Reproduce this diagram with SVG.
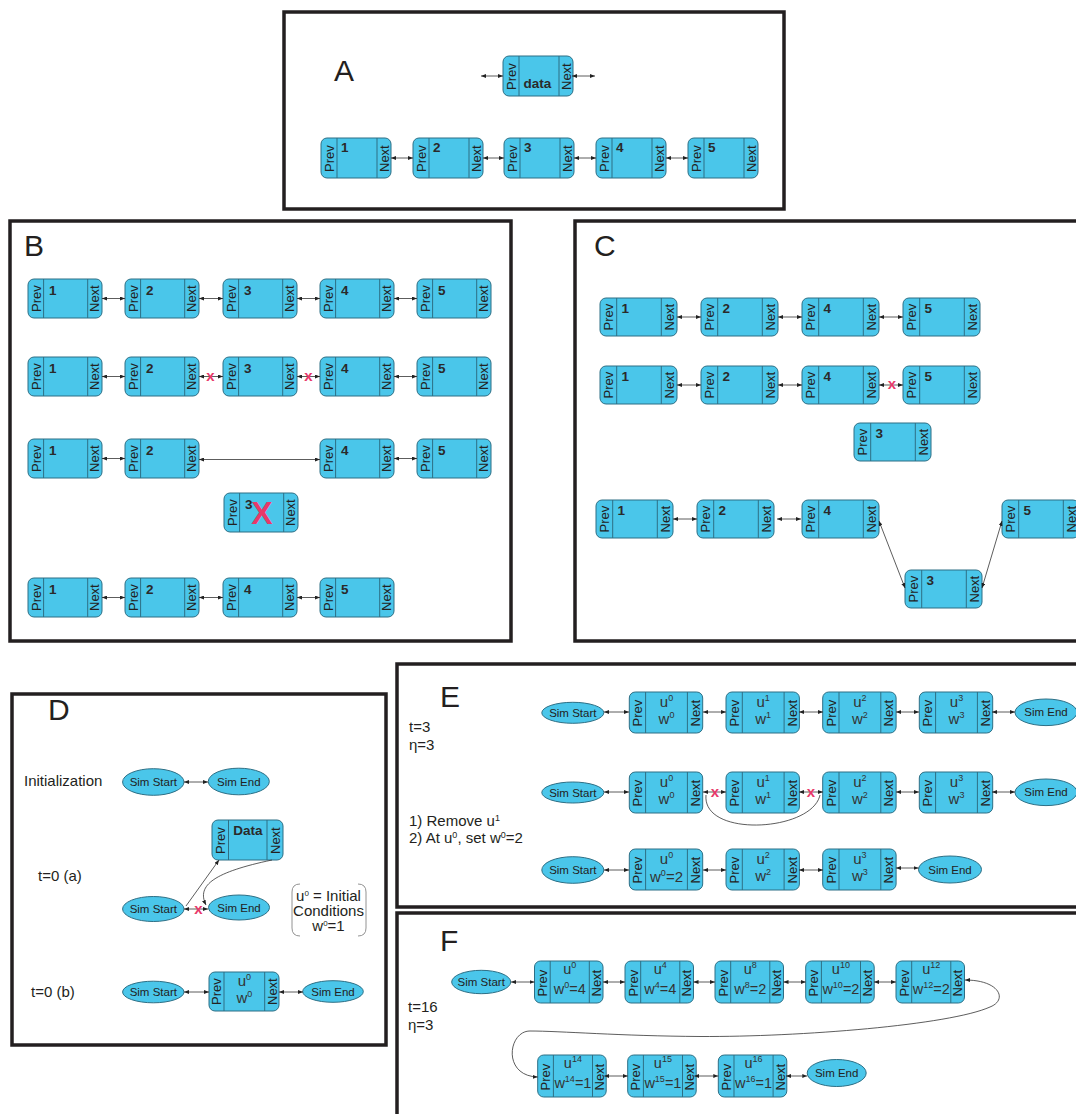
<svg xmlns="http://www.w3.org/2000/svg" xmlns:xlink="http://www.w3.org/1999/xlink" width="1076" height="1114" viewBox="0 0 1076 1114">
<style>
.nr{fill:#4ac6ea;stroke:#2d6f85;stroke-width:1}
.dv{fill:none;stroke:#2d6f85;stroke-width:1}
.pn{font-family:"Liberation Sans",Arial,sans-serif;font-size:13px;fill:#222}
.num{font-family:"Liberation Sans",Arial,sans-serif;font-size:13.5px;font-weight:bold;fill:#2a2a2a}
.el{fill:#4ac6ea;stroke:#2d6f85;stroke-width:1}
.et{font-family:"Liberation Sans",Arial,sans-serif;font-size:11.5px;fill:#222;text-anchor:middle}
.panel{fill:none;stroke:#231f20;stroke-width:3.5}
.big{font-family:"Liberation Sans",Arial,sans-serif;font-size:30px;fill:#231f20}
.lbl{font-family:"Liberation Sans",Arial,sans-serif;font-size:15px;fill:#231f20}
.uw{font-family:"Liberation Sans",Arial,sans-serif;font-size:15px;fill:#333;text-anchor:middle}
.uwf{font-family:"Liberation Sans",Arial,sans-serif;font-size:14.5px;fill:#333;text-anchor:middle}
.xm{font-family:"Liberation Sans",Arial,sans-serif;font-size:15px;font-weight:bold;fill:#e8386a;text-anchor:middle}
.cn{fill:none;stroke:#333;stroke-width:0.8}
</style>
<defs>
<marker id="ah" viewBox="0 0 5 4" refX="5" refY="2" markerWidth="5" markerHeight="4" markerUnits="userSpaceOnUse" orient="auto-start-reverse"><path d="M0,0 L5,2 L0,4 z" fill="#222"/></marker>
<g id="tA"><rect class="nr" width="70" height="40" rx="6"/><path class="dv" d="M16,0V40M56,0V40"/><text class="pn" transform="translate(12.7,34) rotate(-90)">Prev</text><text class="pn" transform="translate(67.7,34) rotate(-90)">Next</text></g>
<g id="tB"><rect class="nr" width="74" height="39" rx="6"/><path class="dv" d="M15.6,0V39M59.7,0V39"/><text class="pn" transform="translate(12.5,33) rotate(-90)">Prev</text><text class="pn" transform="translate(71.3,33) rotate(-90)">Next</text></g>
<g id="tC"><rect class="nr" width="77" height="38" rx="6"/><path class="dv" d="M16.7,0V38M61.3,0V38"/><text class="pn" transform="translate(13,32.5) rotate(-90)">Prev</text><text class="pn" transform="translate(73.8,32.5) rotate(-90)">Next</text></g>
<g id="tDa"><rect class="nr" width="71" height="40" rx="6"/><path class="dv" d="M16.5,0V40M55,0V40"/><text class="pn" transform="translate(12.9,34) rotate(-90)">Prev</text><text class="pn" transform="translate(67.7,34) rotate(-90)">Next</text></g>
<g id="tDb"><rect class="nr" width="70" height="39" rx="6"/><path class="dv" d="M15,0V39M55.7,0V39"/><text class="pn" transform="translate(12.2,33) rotate(-90)">Prev</text><text class="pn" transform="translate(67.5,33) rotate(-90)">Next</text></g>
<g id="tE"><rect class="nr" width="73.4" height="41" rx="6"/><path class="dv" d="M16.3,0V41M58.1,0V41"/><text class="pn" transform="translate(12.9,34.5) rotate(-90)">Prev</text><text class="pn" transform="translate(70.5,34.5) rotate(-90)">Next</text></g>
<g id="tF"><rect class="nr" width="68.5" height="42" rx="6"/><path class="dv" d="M15.7,0V42M54.8,0V42"/><text class="pn" transform="translate(12.5,35.5) rotate(-90)">Prev</text><text class="pn" transform="translate(66.3,35.5) rotate(-90)">Next</text></g>
</defs>
<rect width="1076" height="1114" fill="#fff"/>

<!-- panels -->
<g id="panels">
<rect class="panel" x="284" y="12" width="500" height="197"/>
<rect class="panel" x="10" y="221" width="501" height="420"/>
<rect class="panel" x="575" y="221" width="510" height="420"/>
<rect class="panel" x="12" y="694" width="374" height="351"/>
<rect class="panel" x="397" y="664" width="690" height="243"/>
<rect class="panel" x="397" y="913" width="690" height="210"/>
</g>

<g id="labels">
<text class="big" x="334" y="81">A</text>
<text class="big" x="24" y="256">B</text>
<text class="big" x="594" y="256">C</text>
<text class="big" x="48" y="720" font-size="28">D</text>
<text class="big" x="440" y="707">E</text>
<text class="big" x="440" y="951">F</text>
<text class="lbl" x="24" y="786" font-size="16">Initialization</text>
<text class="lbl" x="38" y="881" font-size="16.5">t=0 (a)</text>
<text class="lbl" x="31" y="997" font-size="16.5">t=0 (b)</text>
<text class="lbl" x="409" y="732">t=3</text>
<text class="lbl" x="409" y="750">η=3</text>
<text class="lbl" x="409" y="826" font-size="14">1) Remove u<tspan dy="-5" font-size="9">1</tspan></text>
<text class="lbl" x="409" y="843" font-size="14">2) At u<tspan dy="-5" font-size="9">0</tspan><tspan dy="5">, set w</tspan><tspan dy="-5" font-size="9">0</tspan><tspan dy="5">=2</tspan></text>
<text class="lbl" x="408" y="1012" font-size="14.5">t=16</text>
<text class="lbl" x="408" y="1030" font-size="14.5">η=3</text>
</g>

<!-- Panel A -->
<g id="A-data"><use href="#tA" x="503" y="56"/><text class="num" x="537.5" y="88" font-size="14" text-anchor="middle">data</text></g>
<g id="A-1"><use href="#tA" x="321" y="138"/><text class="num" x="341" y="152">1</text></g>
<g id="A-2"><use href="#tA" x="413" y="138"/><text class="num" x="433" y="152">2</text></g>
<g id="A-3"><use href="#tA" x="504" y="138"/><text class="num" x="524" y="152">3</text></g>
<g id="A-4"><use href="#tA" x="596" y="138"/><text class="num" x="616" y="152">4</text></g>
<g id="A-5"><use href="#tA" x="688" y="138"/><text class="num" x="708" y="152">5</text></g>

<!-- Panel B -->
<g id="B-r1-1"><use href="#tB" x="28" y="279"/><text class="num" x="49" y="295">1</text></g>
<g id="B-r1-2"><use href="#tB" x="125" y="279"/><text class="num" x="146" y="295">2</text></g>
<g id="B-r1-3"><use href="#tB" x="223" y="279"/><text class="num" x="244" y="295">3</text></g>
<g id="B-r1-4"><use href="#tB" x="320" y="279"/><text class="num" x="341" y="295">4</text></g>
<g id="B-r1-5"><use href="#tB" x="417" y="279"/><text class="num" x="438" y="295">5</text></g>
<g id="B-r2-1"><use href="#tB" x="28" y="357"/><text class="num" x="49" y="373">1</text></g>
<g id="B-r2-2"><use href="#tB" x="125" y="357"/><text class="num" x="146" y="373">2</text></g>
<g id="B-r2-3"><use href="#tB" x="223" y="357"/><text class="num" x="244" y="373">3</text></g>
<g id="B-r2-4"><use href="#tB" x="320" y="357"/><text class="num" x="341" y="373">4</text></g>
<g id="B-r2-5"><use href="#tB" x="417" y="357"/><text class="num" x="438" y="373">5</text></g>
<g id="B-r3-1"><use href="#tB" x="28" y="439"/><text class="num" x="49" y="455">1</text></g>
<g id="B-r3-2"><use href="#tB" x="125" y="439"/><text class="num" x="146" y="455">2</text></g>
<g id="B-r3-4"><use href="#tB" x="320" y="439"/><text class="num" x="341" y="455">4</text></g>
<g id="B-r3-5"><use href="#tB" x="417" y="439"/><text class="num" x="438" y="455">5</text></g>
<g id="B-r3-3"><use href="#tB" x="224" y="493"/><text class="num" x="245" y="508.5">3</text><text x="262" y="524" font-family="Liberation Sans, Arial, sans-serif" font-size="32" font-weight="bold" fill="#e8386a" text-anchor="middle">X</text></g>
<g id="B-r4-1"><use href="#tB" x="28" y="578"/><text class="num" x="49" y="594">1</text></g>
<g id="B-r4-2"><use href="#tB" x="125" y="578"/><text class="num" x="146" y="594">2</text></g>
<g id="B-r4-4"><use href="#tB" x="223" y="578"/><text class="num" x="244" y="594">4</text></g>
<g id="B-r4-5"><use href="#tB" x="320" y="578"/><text class="num" x="341" y="594">5</text></g>

<!-- Panel C -->
<g id="C-r1-1"><use href="#tC" x="600" y="298"/><text class="num" x="621.5" y="312.5">1</text></g>
<g id="C-r1-2"><use href="#tC" x="701" y="298"/><text class="num" x="722.5" y="312.5">2</text></g>
<g id="C-r1-4"><use href="#tC" x="802" y="298"/><text class="num" x="823.5" y="312.5">4</text></g>
<g id="C-r1-5"><use href="#tC" x="903" y="298"/><text class="num" x="924.5" y="312.5">5</text></g>
<g id="C-r2-1"><use href="#tC" x="600" y="366"/><text class="num" x="621.5" y="380.5">1</text></g>
<g id="C-r2-2"><use href="#tC" x="701" y="366"/><text class="num" x="722.5" y="380.5">2</text></g>
<g id="C-r2-4"><use href="#tC" x="802" y="366"/><text class="num" x="823.5" y="380.5">4</text></g>
<g id="C-r2-5"><use href="#tC" x="903" y="366"/><text class="num" x="924.5" y="380.5">5</text></g>
<g id="C-r2-3"><use href="#tC" x="854" y="423"/><text class="num" x="875.5" y="437.5">3</text></g>
<g id="C-r3-1"><use href="#tC" x="596" y="500"/><text class="num" x="617.5" y="514.5">1</text></g>
<g id="C-r3-2"><use href="#tC" x="697" y="500"/><text class="num" x="718.5" y="514.5">2</text></g>
<g id="C-r3-4"><use href="#tC" x="802" y="500"/><text class="num" x="823.5" y="514.5">4</text></g>
<g id="C-r3-5"><use href="#tC" x="1002" y="500"/><text class="num" x="1023.5" y="514.5">5</text></g>
<g id="C-r3-3"><use href="#tC" x="905" y="570"/><text class="num" x="926.5" y="584.5">3</text></g>

<!-- Panel D -->
<g id="D-init-start"><ellipse class="el" cx="153.3" cy="782" rx="30.7" ry="13.3"/><text class="et" x="153.3" y="786">Sim Start</text></g>
<g id="D-init-end"><ellipse class="el" cx="238.8" cy="781.5" rx="30.5" ry="13.3"/><text class="et" x="238.8" y="785.5">Sim End</text></g>
<g id="D-a-data"><use href="#tDa" x="212" y="820"/><text class="num" x="247.8" y="835" font-size="15" text-anchor="middle">Data</text></g>
<g id="D-a-start"><ellipse class="el" cx="153.3" cy="909" rx="30.7" ry="12.5"/><text class="et" x="153.3" y="913">Sim Start</text></g>
<g id="D-a-end"><ellipse class="el" cx="239" cy="907.5" rx="30.5" ry="12.5"/><text class="et" x="239" y="911.5">Sim End</text></g>
<g id="D-note"><path d="M300,884 Q292,884 292,892 L292,928 Q292,936 300,936 M358,884 Q366,884 366,892 L366,928 Q366,936 358,936" fill="none" stroke="#777" stroke-width="0.8"/>
<text class="lbl" x="328.5" y="901" font-size="12.5" text-anchor="middle">u<tspan dy="-5" font-size="8">0</tspan><tspan dy="5"> = Initial</tspan></text>
<text class="lbl" x="328.5" y="916" font-size="12.5" text-anchor="middle">Conditions</text>
<text class="lbl" x="328.5" y="931" font-size="12.5" text-anchor="middle">w<tspan dy="-5" font-size="8">0</tspan><tspan dy="5">=1</tspan></text></g>
<g id="D-b-start"><ellipse class="el" cx="153.3" cy="992" rx="30.7" ry="10.8"/><text class="et" x="153.3" y="996">Sim Start</text></g>
<g id="D-b-u0"><use href="#tDb" x="209" y="972"/><text class="uw" x="244.4" y="985.5">u<tspan dy="-6" font-size="9">0</tspan></text><text class="uw" x="244.4" y="1003">w<tspan dy="-6" font-size="9">0</tspan></text></g>
<g id="D-b-end"><ellipse class="el" cx="333" cy="991.5" rx="30.3" ry="10.8"/><text class="et" x="333" y="995.5">Sim End</text></g>

<!-- Panel E -->
<g id="E-r1-start"><ellipse class="el" cx="572.8" cy="712.8" rx="31" ry="10.5"/><text class="et" x="572.8" y="716.8">Sim Start</text></g>
<g id="E-r1-u0"><use href="#tE" x="629.3" y="692"/><text class="uw" x="666.5" y="707">u<tspan dy="-6" font-size="9">0</tspan></text><text class="uw" x="666.5" y="724">w<tspan dy="-6" font-size="9">0</tspan></text></g>
<g id="E-r1-u1"><use href="#tE" x="726" y="692"/><text class="uw" x="763.2" y="707">u<tspan dy="-6" font-size="9">1</tspan></text><text class="uw" x="763.2" y="724">w<tspan dy="-6" font-size="9">1</tspan></text></g>
<g id="E-r1-u2"><use href="#tE" x="822.7" y="692"/><text class="uw" x="859.9" y="707">u<tspan dy="-6" font-size="9">2</tspan></text><text class="uw" x="859.9" y="724">w<tspan dy="-6" font-size="9">2</tspan></text></g>
<g id="E-r1-u3"><use href="#tE" x="919.3" y="692"/><text class="uw" x="956.5" y="707">u<tspan dy="-6" font-size="9">3</tspan></text><text class="uw" x="956.5" y="724">w<tspan dy="-6" font-size="9">3</tspan></text></g>
<g id="E-r1-end"><ellipse class="el" cx="1046" cy="712.3" rx="31" ry="13.3"/><text class="et" x="1046" y="716.3">Sim End</text></g>
<g id="E-r2-start"><ellipse class="el" cx="572.8" cy="792.5" rx="31" ry="10.5"/><text class="et" x="572.8" y="796.5">Sim Start</text></g>
<g id="E-r2-u0"><use href="#tE" x="629.3" y="772"/><text class="uw" x="666.5" y="787">u<tspan dy="-6" font-size="9">0</tspan></text><text class="uw" x="666.5" y="804">w<tspan dy="-6" font-size="9">0</tspan></text></g>
<g id="E-r2-u1"><use href="#tE" x="726" y="772"/><text class="uw" x="763.2" y="787">u<tspan dy="-6" font-size="9">1</tspan></text><text class="uw" x="763.2" y="804">w<tspan dy="-6" font-size="9">1</tspan></text></g>
<g id="E-r2-u2"><use href="#tE" x="822.7" y="772"/><text class="uw" x="859.9" y="787">u<tspan dy="-6" font-size="9">2</tspan></text><text class="uw" x="859.9" y="804">w<tspan dy="-6" font-size="9">2</tspan></text></g>
<g id="E-r2-u3"><use href="#tE" x="919.3" y="772"/><text class="uw" x="956.5" y="787">u<tspan dy="-6" font-size="9">3</tspan></text><text class="uw" x="956.5" y="804">w<tspan dy="-6" font-size="9">3</tspan></text></g>
<g id="E-r2-end"><ellipse class="el" cx="1046" cy="792.3" rx="31" ry="13.3"/><text class="et" x="1046" y="796.3">Sim End</text></g>
<g id="E-r3-start"><ellipse class="el" cx="572.8" cy="870" rx="31" ry="13.3"/><text class="et" x="572.8" y="874">Sim Start</text></g>
<g id="E-r3-u0"><use href="#tE" x="629.3" y="849"/><text class="uw" x="666.5" y="864">u<tspan dy="-6" font-size="9">0</tspan></text><text class="uw" x="666.5" y="882">w<tspan dy="-6" font-size="9">0</tspan><tspan dy="6">=2</tspan></text></g>
<g id="E-r3-u2"><use href="#tE" x="726" y="849"/><text class="uw" x="763.2" y="864">u<tspan dy="-6" font-size="9">2</tspan></text><text class="uw" x="763.2" y="881">w<tspan dy="-6" font-size="9">2</tspan></text></g>
<g id="E-r3-u3"><use href="#tE" x="822.7" y="849"/><text class="uw" x="859.9" y="864">u<tspan dy="-6" font-size="9">3</tspan></text><text class="uw" x="859.9" y="881">w<tspan dy="-6" font-size="9">3</tspan></text></g>
<g id="E-r3-end"><ellipse class="el" cx="950" cy="869.5" rx="31.5" ry="13.5"/><text class="et" x="950" y="873.5">Sim End</text></g>

<!-- Panel F -->
<g id="F-start"><ellipse class="el" cx="481.2" cy="982" rx="29.5" ry="11.7"/><text class="et" x="481.2" y="986">Sim Start</text></g>
<g id="F-u0"><use href="#tF" x="534.5" y="961"/><text class="uwf" x="569.7" y="974">u<tspan dy="-6" font-size="9">0</tspan></text><text class="uwf" x="569.7" y="994">w<tspan dy="-6" font-size="9">0</tspan><tspan dy="6">=4</tspan></text></g>
<g id="F-u4"><use href="#tF" x="625" y="961"/><text class="uwf" x="660.2" y="974">u<tspan dy="-6" font-size="9">4</tspan></text><text class="uwf" x="660.2" y="994">w<tspan dy="-6" font-size="9">4</tspan><tspan dy="6">=4</tspan></text></g>
<g id="F-u8"><use href="#tF" x="715" y="961"/><text class="uwf" x="750.2" y="974">u<tspan dy="-6" font-size="9">8</tspan></text><text class="uwf" x="750.2" y="994">w<tspan dy="-6" font-size="9">8</tspan><tspan dy="6">=2</tspan></text></g>
<g id="F-u10"><use href="#tF" x="805.7" y="961"/><text class="uwf" x="840.9" y="974">u<tspan dy="-6" font-size="9">10</tspan></text><text class="uwf" x="840.9" y="994">w<tspan dy="-6" font-size="9">10</tspan><tspan dy="6">=2</tspan></text></g>
<g id="F-u12"><use href="#tF" x="896" y="961"/><text class="uwf" x="931.2" y="974">u<tspan dy="-6" font-size="9">12</tspan></text><text class="uwf" x="931.2" y="994">w<tspan dy="-6" font-size="9">12</tspan><tspan dy="6">=2</tspan></text></g>
<g id="F-u14"><use href="#tF" x="537.7" y="1055"/><text class="uwf" x="572.9" y="1068">u<tspan dy="-6" font-size="9">14</tspan></text><text class="uwf" x="572.9" y="1088">w<tspan dy="-6" font-size="9">14</tspan><tspan dy="6">=1</tspan></text></g>
<g id="F-u15"><use href="#tF" x="627.7" y="1055"/><text class="uwf" x="662.9" y="1068">u<tspan dy="-6" font-size="9">15</tspan></text><text class="uwf" x="662.9" y="1088">w<tspan dy="-6" font-size="9">15</tspan><tspan dy="6">=1</tspan></text></g>
<g id="F-u16"><use href="#tF" x="718.3" y="1055"/><text class="uwf" x="753.5" y="1068">u<tspan dy="-6" font-size="9">16</tspan></text><text class="uwf" x="753.5" y="1088">w<tspan dy="-6" font-size="9">16</tspan><tspan dy="6">=1</tspan></text></g>
<g id="F-end"><ellipse class="el" cx="836.7" cy="1073" rx="29.5" ry="13.5"/><text class="et" x="836.7" y="1077">Sim End</text></g>

<!-- connectors -->
<g id="connectors" class="cn" marker-start="url(#ah)" marker-end="url(#ah)">
<path d="M481,76 H503"/><path d="M572,76 H595"/>
<path d="M391,158 H413"/><path d="M483,158 H504"/><path d="M574,158 H596"/><path d="M666,158 H688"/>
<path d="M102,298.5 H125"/><path d="M199,298.5 H223"/><path d="M297,298.5 H320"/><path d="M394,298.5 H417"/>
<path d="M102,376.5 H125"/><path d="M199,376.5 H223"/><path d="M297,376.5 H320"/><path d="M394,376.5 H417"/>
<path d="M102,458.5 H125"/><path d="M199,459.5 H320"/><path d="M394,458.5 H417"/>
<path d="M102,597.5 H125"/><path d="M199,597.5 H223"/><path d="M297,597.5 H320"/>
<path d="M677,317 H701"/><path d="M778,317 H802"/><path d="M879,317 H903"/>
<path d="M677,385 H701"/><path d="M778,385 H802"/><path d="M879,385 H903"/>
<path d="M673,519 H697"/><path d="M777,519 H801"/>
<path d="M879,521 L905,588"/><path d="M982,588 L1002,521"/>
<path d="M184,782 H208"/>
<path d="M184,909 H208"/>
<path d="M186,906 L219,860" marker-start="none"/>
<path d="M272,860 C 215,872 196,885 206,905" marker-start="none"/>
<path d="M184,992 H209"/><path d="M279,992 H303"/>
<path d="M604,712 H629"/><path d="M703,712 H726"/><path d="M799,712 H823"/><path d="M896,712 H919"/><path d="M992,712 H1015"/>
<path d="M604,792 H629"/><path d="M703,792 H726"/><path d="M799,792 H823"/><path d="M896,792 H919"/><path d="M992,792 H1015"/>
<path d="M706,795 C 702,838 812,832 820,795" marker-start="none" marker-end="none"/>
<path d="M604,870 H629"/><path d="M703,870 H726"/><path d="M799,870 H823"/><path d="M896,868 H918.5"/>
<path d="M511,982 H534.5"/><path d="M603,982 H625"/><path d="M693.5,982 H715"/><path d="M783.5,982 H805.7"/><path d="M874,982 H896"/>
<path d="M604.3,1076 H627.7"/><path d="M694.3,1076 H718.3"/><path d="M786,1076 H807.3"/>
<path d="M965,980 C 1000,980 1008,1000 990,1007 C 950,1025 800,1037 700,1036.5 C 620,1036 560,1031 530,1031 C 508,1031 502,1076 537.7,1077"/>
</g>

<!-- break marks -->
<g id="breaks">
<text class="xm" x="210.5" y="381">x</text>
<text class="xm" x="308.5" y="381">x</text>
<text class="xm" x="892" y="389">x</text>
<text class="xm" x="198.3" y="914">x</text>
<text class="xm" x="715" y="797">x</text>
<text class="xm" x="811" y="797">x</text>
</g>
</svg>
